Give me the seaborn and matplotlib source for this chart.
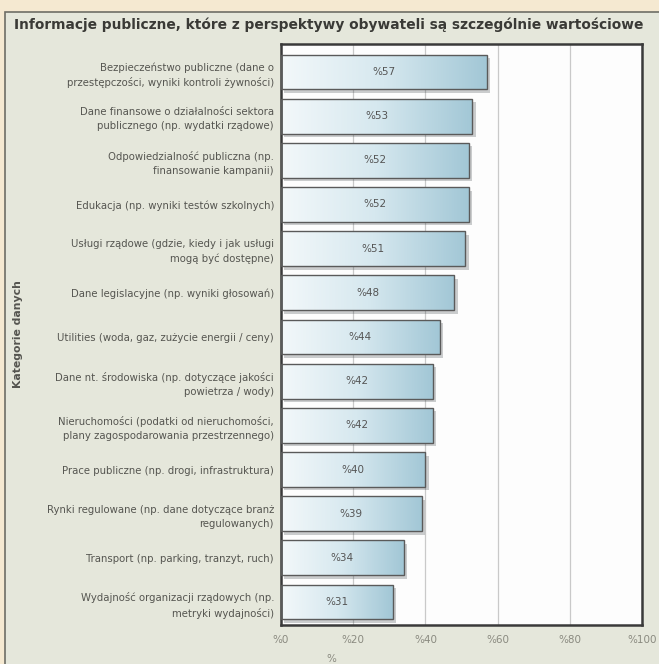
import numpy as np
import pandas as pd
import matplotlib
matplotlib.use("Agg")
import matplotlib.pyplot as plt
import matplotlib.patches as mpatches
import matplotlib.patheffects as pe
from matplotlib.colors import LinearSegmentedColormap
import seaborn as sns

title = "Informacje publiczne, które z perspektywy obywateli są szczególnie wartościowe"
categories = [
    "Bezpieczeństwo publiczne (dane o\nprzestępczości, wyniki kontroli żywności)",
    "Dane finansowe o działalności sektora\npublicznego (np. wydatki rządowe)",
    "Odpowiedzialność publiczna (np.\nfinansowanie kampanii)",
    "Edukacja (np. wyniki testów szkolnych)",
    "Usługi rządowe (gdzie, kiedy i jak usługi\nmogą być dostępne)",
    "Dane legislacyjne (np. wyniki głosowań)",
    "Utilities (woda, gaz, zużycie energii / ceny)",
    "Dane nt. środowiska (np. dotyczące jakości\npowietrza / wody)",
    "Nieruchomości (podatki od nieruchomości,\nplany zagospodarowania przestrzennego)",
    "Prace publiczne (np. drogi, infrastruktura)",
    "Rynki regulowane (np. dane dotyczące branż\nregulowanych)",
    "Transport (np. parking, tranzyt, ruch)",
    "Wydajność organizacji rządowych (np.\nmetryki wydajności)",
]
values = [57, 53, 52, 52, 51, 48, 44, 42, 42, 40, 39, 34, 31]
x_ticks = [0, 20, 40, 60, 80, 100]
x_tick_labels = ["%0", "%20", "%40", "%60", "%80", "%100"]
y_label = "Kategorie danych"
x_label = "%"

df = pd.DataFrame({"cat": categories, "val": values})

sns.set_theme(style="white")
plt.rcParams["font.family"] = ["DejaVu Sans"]

fig = plt.figure(figsize=(6.59, 6.64), dpi=100)
fig.patch.set_facecolor("#f5e9d1")
panel = mpatches.Rectangle((5 / 659, -0.01), 1.0, (664 - 12) / 664 + 0.01,
                           transform=fig.transFigure, facecolor="#e5e7db",
                           edgecolor="#6e6e66", linewidth=1.2, zorder=0)
fig.patches.append(panel)

ax = fig.add_axes([281 / 659, 1 - 625 / 664, (642 - 281) / 659, (625 - 44) / 664])
ax.set_zorder(2)
ax.set_facecolor("#fdfdfd")

sns.barplot(data=df, x="val", y="cat", orient="h", ax=ax, color="#a9ccd9",
            width=0.79, zorder=2)

cmap = LinearSegmentedColormap.from_list("g", ["#f3f8fa", "#d6e8ef", "#a2c7d6"])
grad = np.linspace(0, 1, 256).reshape(1, -1)
for p, v in zip(ax.patches, values):
    x0, y0 = p.get_xy()
    w, h = p.get_width(), p.get_height()
    p.set_edgecolor("none")
    p.set_path_effects([pe.SimplePatchShadow(offset=(2.5, -2.5), alpha=0.25), pe.Normal()])
    im = ax.imshow(grad, extent=[x0, x0 + w, y0 + h, y0], aspect="auto",
                   cmap=cmap, zorder=2.5, interpolation="bicubic")
    im.set_clip_path(p)
    edge = mpatches.Rectangle((x0, y0), w, h, facecolor="none",
                              edgecolor="#5a5a5a", linewidth=1.0, zorder=3)
    ax.add_patch(edge)
    ax.text(x0 + w / 2, y0 + h / 2, f"%{v}", ha="center", va="center",
            fontsize=7.5, color="#555555", zorder=4)

ax.set_xlim(0, 100)
ax.set_ylim(len(values) - 0.48, -0.633)
ax.set_xticks(x_ticks)
ax.set_xticklabels(x_tick_labels, fontsize=7.5, color="#8a8a80")
ax.tick_params(axis="y", labelsize=7.25, labelcolor="#555550", length=0, pad=5)
for t in ax.get_yticklabels():
    t.set_linespacing(1.5)
ax.tick_params(axis="x", length=0, pad=7)
ax.grid(axis="x", color="#c9c9c9", linewidth=0.9, zorder=1)
ax.set_axisbelow(True)
for s in ax.spines.values():
    s.set_visible(True)
    s.set_color("#3a3a3a")
    s.set_linewidth(1.8)

ax.set_ylabel(y_label, fontsize=7.8, fontweight="bold", color="#555550")
ax.yaxis.set_label_coords(-0.715, 0.5)
ax.set_xlabel(x_label, fontsize=7.5, color="#8a8a80")
ax.xaxis.set_label_coords(0.14, -0.05)

fig.text(14 / 659, 1 - 25 / 664, title, fontsize=9.9, fontweight="bold",
         color="#3a3a36", ha="left", va="center")

fig.savefig("out.png", dpi=100, facecolor=fig.get_facecolor())
